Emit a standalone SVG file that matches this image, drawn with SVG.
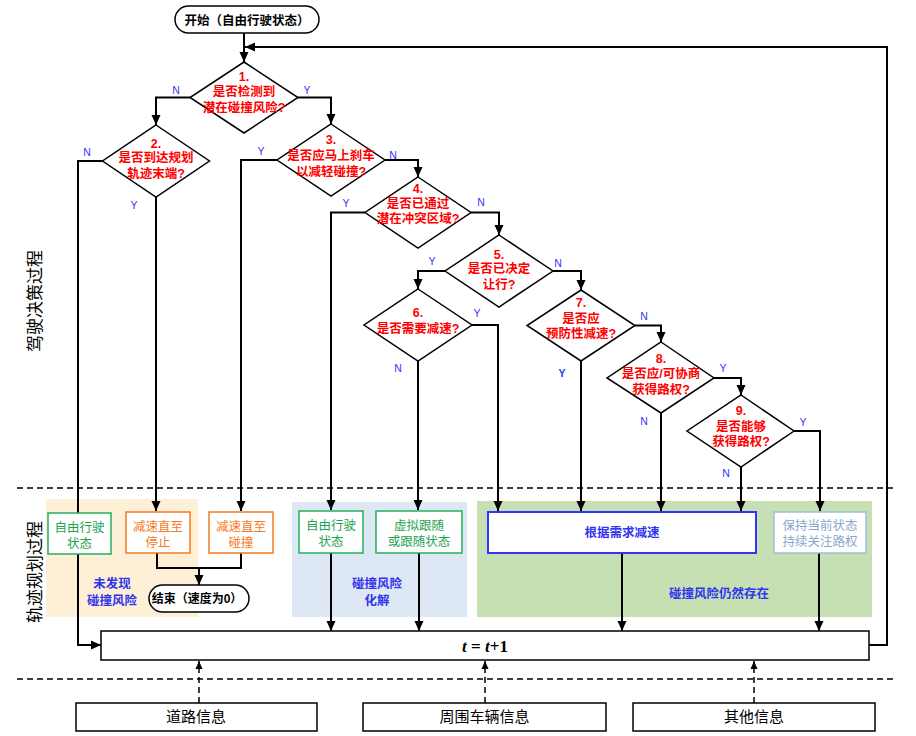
<svg xmlns="http://www.w3.org/2000/svg" width="916" height="736" viewBox="0 0 916 736">
<defs>
<marker id="ah" markerUnits="userSpaceOnUse" markerWidth="10" markerHeight="10" viewBox="0 0 10 10" refX="10" refY="5" orient="auto"><path d="M0,0.5 L10,5 L0,9.5 z" fill="#000"/></marker>
<marker id="ahs" markerUnits="userSpaceOnUse" markerWidth="8" markerHeight="8" viewBox="0 0 8 8" refX="8" refY="4" orient="auto"><path d="M0,0.5 L8,4 L0,7.5 z" fill="#000"/></marker>
<style>
.ln{stroke:#000;stroke-width:2;fill:none}
.dl{stroke:#000;stroke-width:1.6;fill:none;stroke-dasharray:6,4}
.da{stroke:#000;stroke-width:1.5;fill:none;stroke-dasharray:6,4}
.dm{fill:#fff;stroke:#000;stroke-width:1.5}
.q{font-family:"Liberation Sans","Noto Sans CJK SC",sans-serif;font-size:12.5px;font-weight:bold;fill:#ff0000;text-anchor:middle}
.yn{font-family:"Liberation Sans","Noto Sans CJK SC",sans-serif;font-size:10.5px;fill:#3333ff;text-anchor:middle}
.t{font-family:"Liberation Sans","Noto Sans CJK SC",sans-serif;text-anchor:middle}
.g{font-size:12.5px;fill:#1fa350}
.o{font-size:12.5px;fill:#f57a24}
.b{font-size:12.5px;font-weight:bold;fill:#3333ee}
.info{font-size:15px;fill:#000}
.side{font-size:17px;fill:#000}
</style>
</defs>
<rect width="916" height="736" fill="#fff"/>

<!-- background regions -->
<g id="regions">
<rect x="46" y="499" width="152" height="118" fill="#fdf0d6"/>
<rect x="292" y="502" width="175" height="115" fill="#dde8f4"/>
<rect x="477" y="501" width="395" height="116" fill="#c6e0b4"/>
<line class="dl" x1="17" y1="488" x2="897" y2="488"/>
<line class="dl" x1="17" y1="679" x2="897" y2="679"/>
<text class="t side" transform="translate(35,301) rotate(-90)" dominant-baseline="central">驾驶决策过程</text>
<text class="t side" transform="translate(35,572) rotate(-90)" dominant-baseline="central">轨迹规划过程</text>
<text class="t b" x="112" y="588">未发现</text>
<text class="t b" x="112" y="605">碰撞风险</text>
<text class="t b" x="377" y="588">碰撞风险</text>
<text class="t b" x="377" y="605">化解</text>
<text class="t b" x="719" y="598">碰撞风险仍然存在</text>
</g>

<!-- connectors -->
<g id="connectors">
<polyline class="ln" points="244,33 244,62" marker-end="url(#ah)"/>
<polyline class="ln" points="869,645 887,645 887,47 245,47" marker-end="url(#ah)"/>
<polyline class="ln" points="190,97.5 156,97.5 156,125" marker-end="url(#ah)"/>
<polyline class="ln" points="298,97.5 331,97.5 331,124" marker-end="url(#ah)"/>
<polyline class="ln" points="102.5,161 78,161 78,645 101,645" marker-end="url(#ah)"/>
<polyline class="ln" points="156,197 156,511" marker-end="url(#ah)"/>
<polyline class="ln" points="277,160 241,160 241,511" marker-end="url(#ah)"/>
<polyline class="ln" points="385,160 418,160 418,177" marker-end="url(#ah)"/>
<polyline class="ln" points="365,212.5 331,212.5 331,510" marker-end="url(#ah)"/>
<polyline class="ln" points="471,212.5 499,212.5 499,235" marker-end="url(#ah)"/>
<polyline class="ln" points="445,271 418,271 418,289" marker-end="url(#ah)"/>
<polyline class="ln" points="553,271 581,271 581,290" marker-end="url(#ah)"/>
<polyline class="ln" points="418,361 418,510" marker-end="url(#ah)"/>
<polyline class="ln" points="472,325 498,325 498,511" marker-end="url(#ah)"/>
<polyline class="ln" points="581,361 581,511" marker-end="url(#ah)"/>
<polyline class="ln" points="635,325.5 661,325.5 661,342" marker-end="url(#ah)"/>
<polyline class="ln" points="661,413 661,511" marker-end="url(#ah)"/>
<polyline class="ln" points="714,378 741,378 741,395" marker-end="url(#ah)"/>
<polyline class="ln" points="741,467 741,511" marker-end="url(#ah)"/>
<polyline class="ln" points="794,431 820,431 820,511" marker-end="url(#ah)"/>
<polyline class="ln" points="157,553 157,568 241,568 241,553"/>
<polyline class="ln" points="199,568 199,585" marker-end="url(#ah)"/>
<polyline class="ln" points="331,553 331,631" marker-end="url(#ah)"/>
<polyline class="ln" points="419,553 419,631" marker-end="url(#ah)"/>
<polyline class="ln" points="622,553 622,631" marker-end="url(#ah)"/>
<polyline class="ln" points="819,553 819,631" marker-end="url(#ah)"/>
<line class="da" x1="199" y1="703" x2="199" y2="661" marker-end="url(#ahs)"/>
<line class="da" x1="485" y1="703" x2="485" y2="661" marker-end="url(#ahs)"/>
<line class="da" x1="754" y1="703" x2="754" y2="661" marker-end="url(#ahs)"/>
<text class="yn" x="176" y="94">N</text>
<text class="yn" x="307" y="94">Y</text>
<text class="yn" x="87" y="156">N</text>
<text class="yn" x="134" y="209">Y</text>
<text class="yn" x="261" y="155">Y</text>
<text class="yn" x="393" y="159">N</text>
<text class="yn" x="346" y="207">Y</text>
<text class="yn" x="481" y="206">N</text>
<text class="yn" x="432" y="265">Y</text>
<text class="yn" x="558" y="267">N</text>
<text class="yn" x="398" y="372">N</text>
<text class="yn" x="477" y="317">Y</text>
<text class="yn" x="562" y="377" font-weight="bold">Y</text>
<text class="yn" x="644" y="320">N</text>
<text class="yn" x="644" y="425">N</text>
<text class="yn" x="723" y="372">Y</text>
<text class="yn" x="726" y="477">N</text>
<text class="yn" x="803" y="426">Y</text>
</g>

<g id="start">
<rect x="175" y="6" width="144" height="27" rx="13.5" fill="#fff" stroke="#000" stroke-width="1.5"/>
<text class="t" x="247" y="24.5" font-size="12.5" font-weight="bold">开始（自由行驶状态）</text>
</g>

<g id="d1">
<polygon class="dm" points="244,62 298,97.5 244,133 190,97.5"/>
<text class="q" x="244" y="81">1.</text>
<text class="q" x="244" y="96">是否检测到</text>
<text class="q" x="244" y="112">潜在碰撞风险?</text>
</g>
<g id="d2">
<polygon class="dm" points="156,125 209.5,161 156,197 102.5,161"/>
<text class="q" x="156" y="148">2.</text>
<text class="q" x="156" y="162">是否到达规划</text>
<text class="q" x="156" y="178">轨迹末端?</text>
</g>
<g id="d3">
<polygon class="dm" points="331,124 385,160 331,196 277,160"/>
<text class="q" x="331" y="144">3.</text>
<text class="q" x="331" y="160">是否应马上刹车</text>
<text class="q" x="331" y="176">以减轻碰撞?</text>
</g>
<g id="d4">
<polygon class="dm" points="418,177 471,212.5 418,248 365,212.5"/>
<text class="q" x="418" y="193">4.</text>
<text class="q" x="418" y="208">是否已通过</text>
<text class="q" x="418" y="223">潜在冲突区域?</text>
</g>
<g id="d5">
<polygon class="dm" points="499,235 553,271 499,307 445,271"/>
<text class="q" x="499" y="259">5.</text>
<text class="q" x="499" y="273">是否已决定</text>
<text class="q" x="499" y="289">让行?</text>
</g>
<g id="d6">
<polygon class="dm" points="418,289 472,325 418,361 364,325"/>
<text class="q" x="418" y="317">6.</text>
<text class="q" x="418" y="333">是否需要减速?</text>
</g>
<g id="d7">
<polygon class="dm" points="581,290 635,325.5 581,361 527,325.5"/>
<text class="q" x="581" y="307">7.</text>
<text class="q" x="581" y="323">是否应</text>
<text class="q" x="581" y="338">预防性减速?</text>
</g>
<g id="d8">
<polygon class="dm" points="661,342 714,378 661,413 607,378"/>
<text class="q" x="661" y="363">8.</text>
<text class="q" x="661" y="378">是否应/可协商</text>
<text class="q" x="661" y="394">获得路权?</text>
</g>
<g id="d9">
<polygon class="dm" points="741,395 794,431 741,467 687,431"/>
<text class="q" x="741" y="415">9.</text>
<text class="q" x="741" y="431">是否能够</text>
<text class="q" x="741" y="446">获得路权?</text>
</g>

<g id="b1">
<rect x="48" y="513" width="63" height="41" fill="#fff" stroke="#22b05a" stroke-width="1.5"/>
<text class="t g" x="79.5" y="532">自由行驶</text>
<text class="t g" x="79.5" y="548">状态</text>
</g>
<g id="b2">
<rect x="126" y="512" width="64" height="41" fill="#fff" stroke="#f47a20" stroke-width="1.5"/>
<text class="t o" x="158" y="531">减速直至</text>
<text class="t o" x="158" y="547">停止</text>
</g>
<g id="b3">
<rect x="209" y="512" width="64" height="41" fill="#fff" stroke="#f47a20" stroke-width="1.5"/>
<text class="t o" x="241" y="531">减速直至</text>
<text class="t o" x="241" y="547">碰撞</text>
</g>
<g id="end">
<rect x="149" y="585" width="100" height="27" rx="13.5" fill="#fff" stroke="#000" stroke-width="1.5"/>
<text class="t" x="197" y="603" font-size="12" font-weight="bold">结束（速度为0）</text>
</g>
<g id="b4">
<rect x="299" y="511" width="64" height="42" fill="#fff" stroke="#22b05a" stroke-width="1.5"/>
<text class="t g" x="331" y="530">自由行驶</text>
<text class="t g" x="331" y="546">状态</text>
</g>
<g id="b5">
<rect x="376" y="511" width="86" height="42" fill="#fff" stroke="#22b05a" stroke-width="1.5"/>
<text class="t g" x="419" y="530">虚拟跟随</text>
<text class="t g" x="419" y="546">或跟随状态</text>
</g>
<g id="b6">
<rect x="488" y="512" width="268" height="41" fill="#fff" stroke="#3333ff" stroke-width="2"/>
<text class="t b" x="622" y="537">根据需求减速</text>
</g>
<g id="b7">
<rect x="774" y="512" width="92" height="41" fill="#fff" stroke="#9dbde0" stroke-width="1.5"/>
<text class="t" x="820" y="530" font-size="12.5" fill="#8aa6cc">保持当前状态</text>
<text class="t" x="820" y="546" font-size="12.5" fill="#8aa6cc">持续关注路权</text>
</g>
<g id="step">
<rect x="101" y="631" width="768" height="29" fill="#fff" stroke="#000" stroke-width="1.5"/>
<text x="485" y="652" text-anchor="middle" font-family="Liberation Serif,serif" font-size="17" font-weight="bold"><tspan font-style="italic">t</tspan> = <tspan font-style="italic">t</tspan>+1</text>
</g>
<g id="info1">
<rect x="76" y="703" width="241" height="28" fill="#fff" stroke="#000" stroke-width="1.5"/>
<text class="t info" x="196" y="722">道路信息</text>
</g>
<g id="info2">
<rect x="363" y="703" width="243" height="28" fill="#fff" stroke="#000" stroke-width="1.5"/>
<text class="t info" x="484.5" y="722">周围车辆信息</text>
</g>
<g id="info3">
<rect x="633" y="703" width="242" height="28" fill="#fff" stroke="#000" stroke-width="1.5"/>
<text class="t info" x="754" y="722">其他信息</text>
</g>
</svg>
